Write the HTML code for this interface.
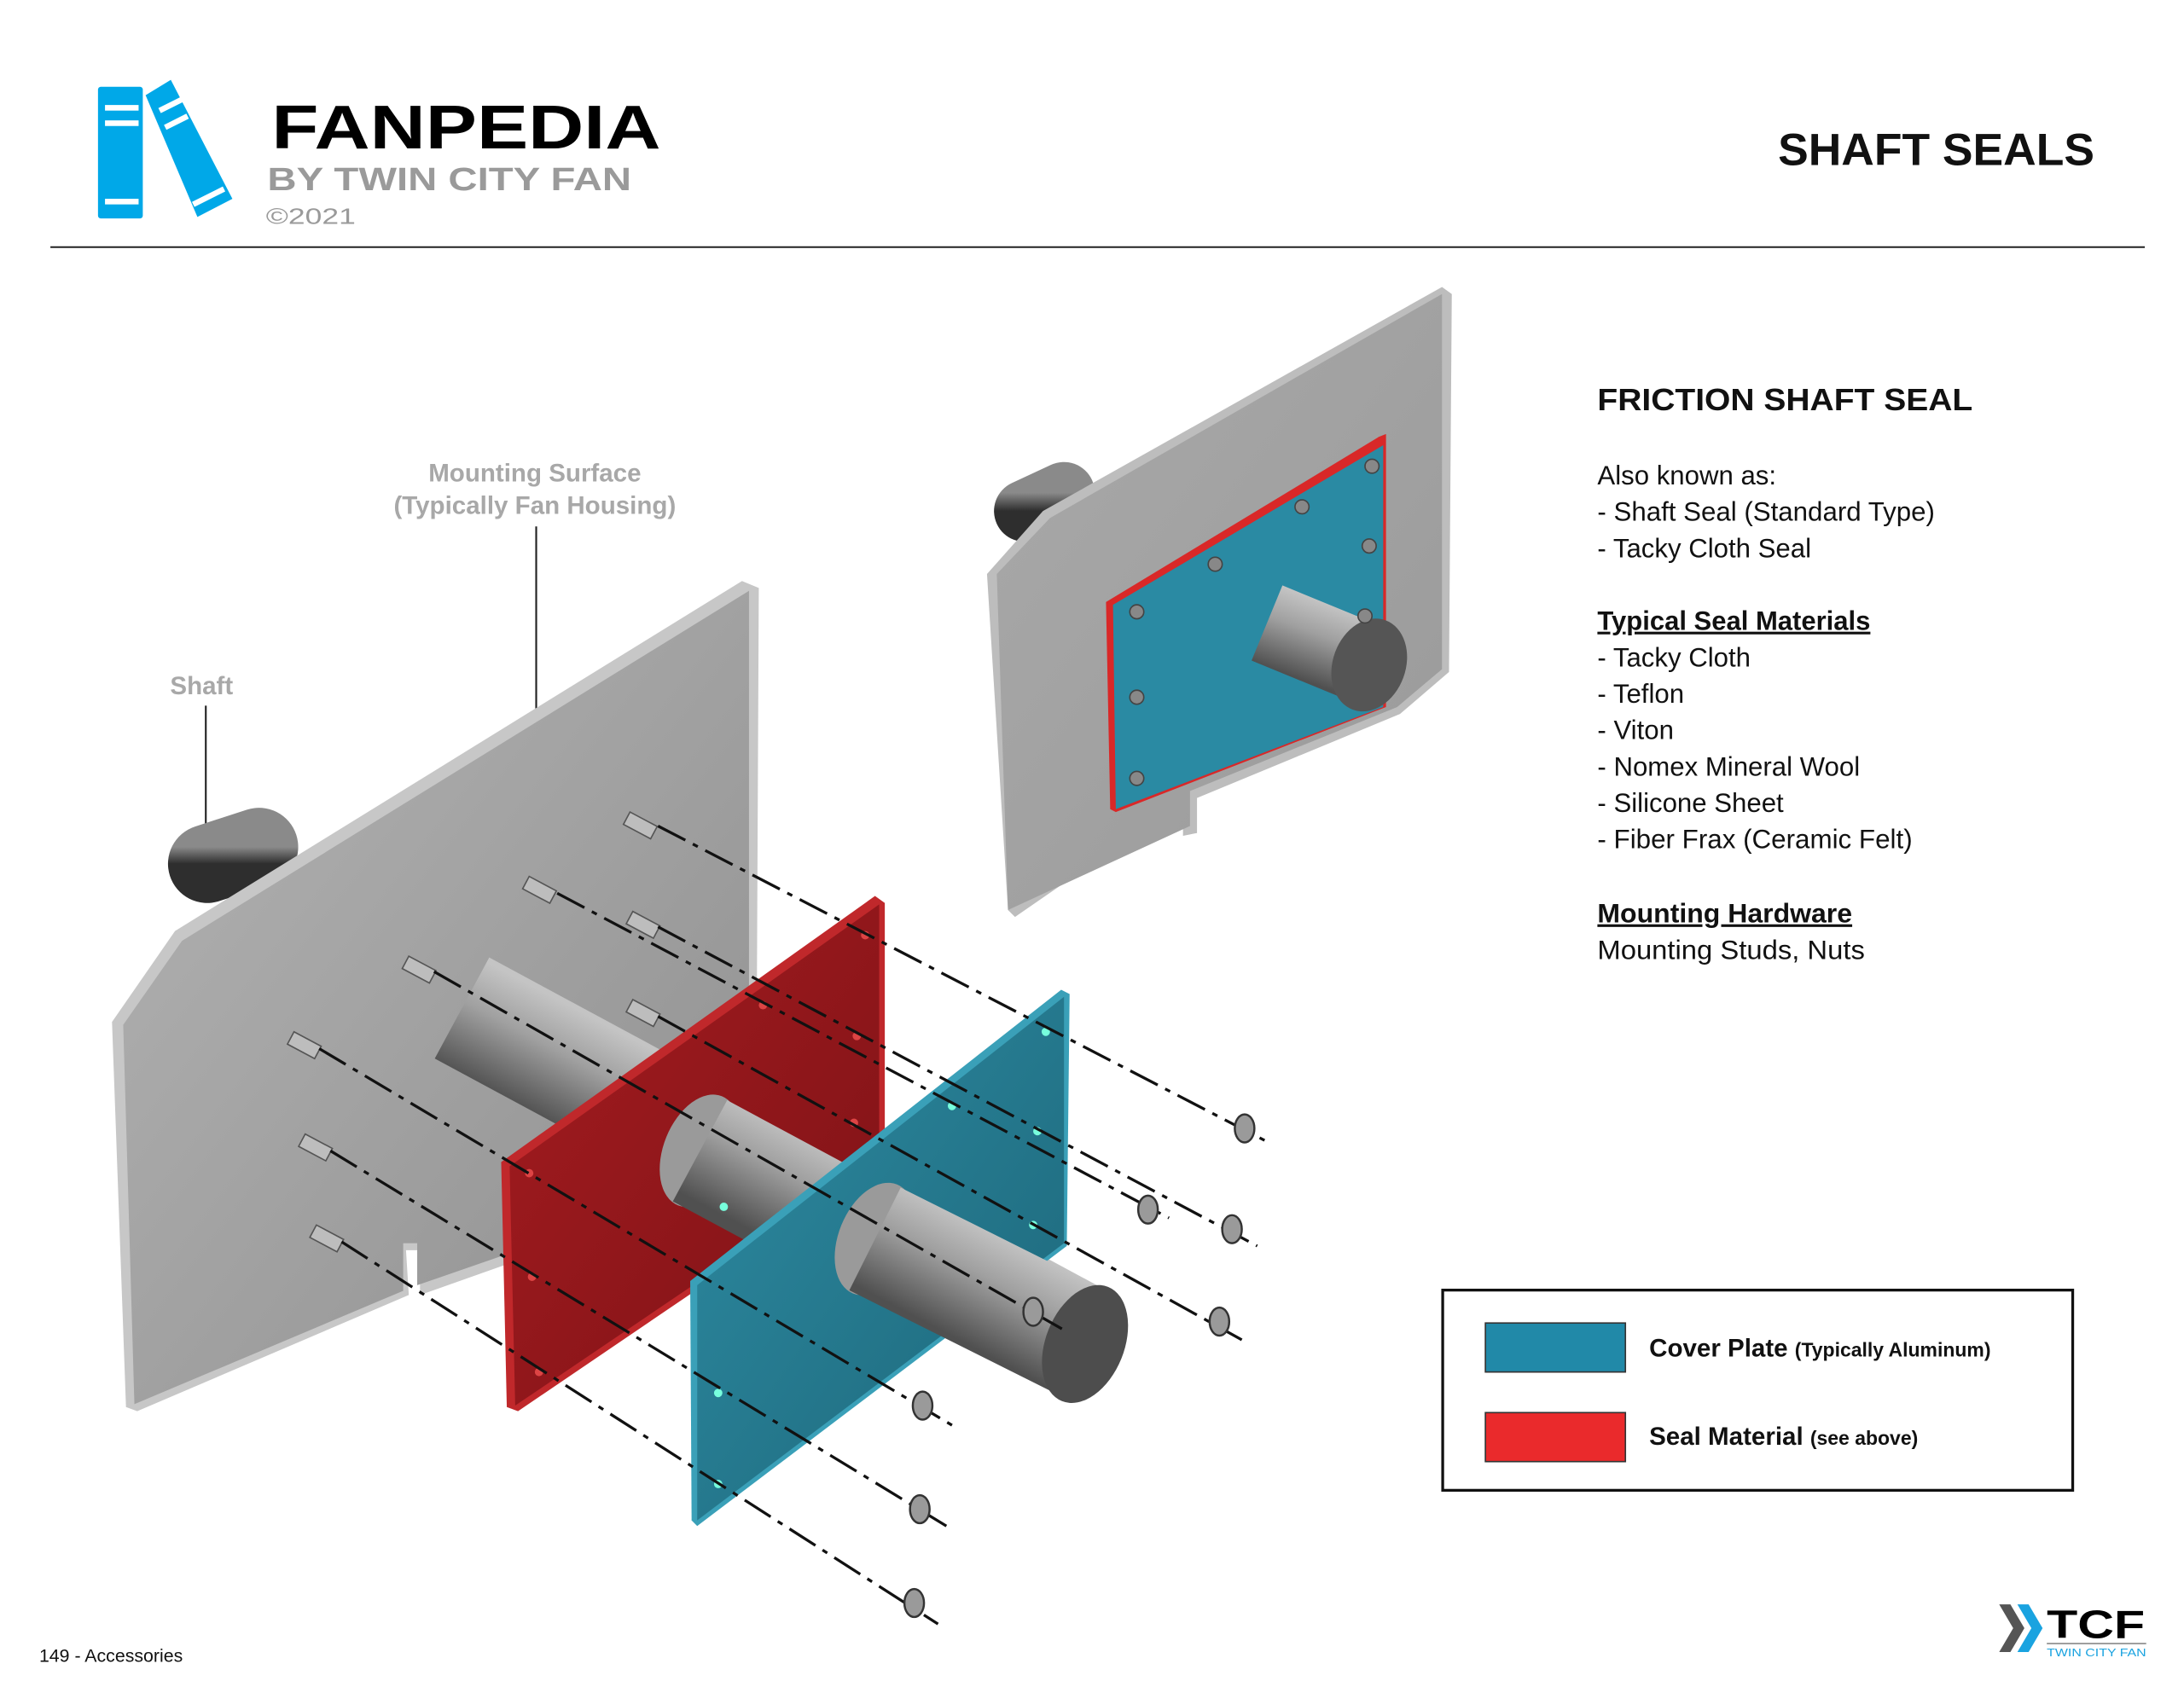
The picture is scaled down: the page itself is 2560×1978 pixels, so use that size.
<!DOCTYPE html>
<html><head><meta charset="utf-8"><style>
html,body{margin:0;padding:0;background:#fff}
svg{display:block}
text{font-family:"Liberation Sans",sans-serif}
</style></head><body>
<svg width="2560" height="1978" viewBox="0 0 1560 1205" preserveAspectRatio="none" xmlns="http://www.w3.org/2000/svg">
<defs>
<linearGradient id="gp" x1="0" y1="0" x2="1" y2="1"><stop offset="0" stop-color="#b4b4b4"/><stop offset="1" stop-color="#8f8f8f"/></linearGradient>
<linearGradient id="gp2" x1="0" y1="0" x2="1" y2="1"><stop offset="0" stop-color="#a9a9a9"/><stop offset="1" stop-color="#9a9a9a"/></linearGradient>
<linearGradient id="gr" x1="0" y1="0" x2="1" y2="1"><stop offset="0" stop-color="#a51c20"/><stop offset="1" stop-color="#7d1216"/></linearGradient>
<linearGradient id="gt" x1="0" y1="0" x2="1" y2="1"><stop offset="0" stop-color="#2e8ca3"/><stop offset="1" stop-color="#1c6578"/></linearGradient>
<linearGradient id="gs" gradientUnits="userSpaceOnUse" x1="569" y1="804" x2="531" y2="876"><stop offset="0" stop-color="#c4c4c4"/><stop offset="0.4" stop-color="#a0a0a0"/><stop offset="1" stop-color="#505050"/></linearGradient>
<linearGradient id="gs2" gradientUnits="userSpaceOnUse" x1="954" y1="433" x2="934" y2="487"><stop offset="0" stop-color="#c4c4c4"/><stop offset="0.4" stop-color="#a0a0a0"/><stop offset="1" stop-color="#505050"/></linearGradient>
<linearGradient id="gd" x1="0" y1="0" x2="0" y2="1"><stop offset="0" stop-color="#8a8a8a"/><stop offset="1" stop-color="#2e2e2e"/></linearGradient>
</defs>

<g>
<rect x="70" y="62" width="32" height="94" rx="2" fill="#00a8e8"/>
<rect x="75" y="75" width="24" height="4" fill="#fff"/><rect x="75" y="86" width="24" height="4" fill="#fff"/><rect x="75" y="142" width="24" height="4" fill="#fff"/>
<polygon points="104,68 122,57 166,142 141,155" fill="#00a8e8"/>
<line x1="114" y1="79" x2="130" y2="71" stroke="#fff" stroke-width="4"/><line x1="118" y1="91" x2="134" y2="83" stroke="#fff" stroke-width="4"/><line x1="138" y1="146" x2="160" y2="135" stroke="#fff" stroke-width="4"/>
</g>
<text x="194" y="106" font-size="44" font-weight="bold" textLength="278" lengthAdjust="spacingAndGlyphs" fill="#000">FANPEDIA</text>
<text x="191" y="136" font-size="23" font-weight="bold" textLength="260" lengthAdjust="spacingAndGlyphs" fill="#9a9a9a">BY TWIN CITY FAN</text>
<text x="190" y="160" font-size="16" textLength="64" lengthAdjust="spacingAndGlyphs" fill="#9a9a9a">©2021</text>
<text x="1270" y="118" font-size="32" font-weight="bold" textLength="226" lengthAdjust="spacingAndGlyphs" fill="#111">SHAFT SEALS</text>
<line x1="36" y1="176.5" x2="1532" y2="176.5" stroke="#222" stroke-width="1.2"/>

<g font-size="19" fill="#111">
<text x="1141" y="293" font-size="22" font-weight="bold" textLength="268" lengthAdjust="spacingAndGlyphs">FRICTION SHAFT SEAL</text>
<text x="1141" y="346">Also known as:</text>
<text x="1141" y="372" textLength="241" lengthAdjust="spacingAndGlyphs">- Shaft Seal (Standard Type)</text>
<text x="1141" y="398">- Tacky Cloth Seal</text>
<text x="1141" y="450" font-weight="bold" text-decoration="underline" textLength="195" lengthAdjust="spacingAndGlyphs">Typical Seal Materials</text>
<text x="1141" y="476">- Tacky Cloth</text>
<text x="1141" y="502">- Teflon</text>
<text x="1141" y="528">- Viton</text>
<text x="1141" y="554">- Nomex Mineral Wool</text>
<text x="1141" y="580">- Silicone Sheet</text>
<text x="1141" y="606" textLength="225" lengthAdjust="spacingAndGlyphs">- Fiber Frax (Ceramic Felt)</text>
<text x="1141" y="659" font-weight="bold" text-decoration="underline" textLength="182" lengthAdjust="spacingAndGlyphs">Mounting Hardware</text>
<text x="1141" y="685" textLength="191" lengthAdjust="spacingAndGlyphs">Mounting Studs, Nuts</text>
</g>

<rect x="1030.5" y="921.5" width="450" height="143" fill="#fff" stroke="#111" stroke-width="2"/>
<rect x="1061" y="945" width="100" height="35" fill="#2189a8" stroke="#333" stroke-width="1"/>
<rect x="1061" y="1009" width="100" height="35" fill="#ea2a2c" stroke="#333" stroke-width="1"/>
<text x="1178" y="969" font-size="18" font-weight="bold" fill="#111">Cover Plate <tspan font-size="14">(Typically Aluminum)</tspan></text>
<text x="1178" y="1032" font-size="18" font-weight="bold" fill="#111">Seal Material <tspan font-size="14">(see above)</tspan></text>

<text x="28" y="1187" font-size="13" fill="#111">149 - Accessories</text>
<polygon points="1428,1146 1436,1146 1446,1163 1436,1180 1428,1180 1438,1163" fill="#555"/>
<polygon points="1441,1146 1449,1146 1459,1163 1449,1180 1441,1180 1451,1163" fill="#1aa3e0"/>
<text x="1462" y="1170" font-size="28" font-weight="bold" textLength="70" lengthAdjust="spacingAndGlyphs" fill="#000">TCF</text>
<line x1="1462" y1="1174" x2="1533" y2="1174" stroke="#888" stroke-width="1"/>
<text x="1462" y="1183" font-size="8" textLength="71" lengthAdjust="spacingAndGlyphs" fill="#1aa3e0">TWIN CITY FAN</text>

<text x="382" y="344" font-size="18" font-weight="bold" fill="#a8a8a8" text-anchor="middle">Mounting Surface</text>
<text x="382" y="367" font-size="18" font-weight="bold" fill="#a8a8a8" text-anchor="middle">(Typically Fan Housing)</text>
<line x1="383" y1="376" x2="383" y2="543" stroke="#222" stroke-width="1.3"/>
<text x="144" y="496" font-size="18" font-weight="bold" fill="#a8a8a8" text-anchor="middle">Shaft</text>
<line x1="147" y1="504" x2="147" y2="618" stroke="#222" stroke-width="1.3"/>

<line x1="732" y1="365" x2="760" y2="352" stroke="url(#gd)" stroke-width="44" stroke-linecap="round"/>
<polygon points="705,410 745,365 1030,205 1037,210 1035,480 1000,510 855,570 855,595 845,597 845,572 725,655 720,650" fill="#bdbdbd"/>
<polygon points="712,410 750,370 1030,210 1030,478 998,505 850,565 850,590 720,650" fill="url(#gp2)"/>
<polygon points="790,430 985,312 990,310 990,505 797,580 793,578" fill="#d92828"/>
<polygon points="795,432 988,318 988,505 797,578" fill="#2a8aa3"/>
<line x1="905" y1="445" x2="978" y2="475" stroke="url(#gs2)" stroke-width="58"/>
<ellipse cx="978" cy="475" rx="26" ry="34" transform="rotate(20 978 475)" fill="#555"/>
<g fill="#888" stroke="#444" stroke-width="1">
<circle cx="812" cy="437" r="5"/><circle cx="868" cy="403" r="5"/><circle cx="930" cy="362" r="5"/><circle cx="980" cy="333" r="5"/><circle cx="978" cy="390" r="5"/><circle cx="975" cy="440" r="5"/><circle cx="812" cy="498" r="5"/><circle cx="812" cy="556" r="5"/>
</g>

<line x1="148" y1="617" x2="185" y2="605" stroke="url(#gd)" stroke-width="56" stroke-linecap="round"/>
<polygon points="80,730 125,665 530,415 542,420 540,840 300,925 300,893 290,893 292,925 98,1008 90,1005" fill="#c7c7c7"/>
<polygon points="88,732 130,672 535,422 535,836 298,918 298,888 288,888 288,922 96,1003" fill="url(#gp)"/>

<line x1="330" y1="720" x2="775" y2="960" stroke="url(#gs)" stroke-width="82"/>

<g stroke="#555" stroke-width="1" fill="#bdbdbd">
<rect x="450" y="580" width="22" height="10" transform="rotate(28 450 580)"/>
<rect x="378" y="626" width="22" height="10" transform="rotate(28 378 626)"/>
<rect x="452" y="651" width="22" height="10" transform="rotate(28 452 651)"/>
<rect x="452" y="714" width="22" height="10" transform="rotate(28 452 714)"/>
<rect x="292" y="683" width="22" height="10" transform="rotate(28 292 683)"/>
<rect x="210" y="737" width="22" height="10" transform="rotate(28 210 737)"/>
<rect x="218" y="810" width="22" height="10" transform="rotate(28 218 810)"/>
<rect x="226" y="875" width="22" height="10" transform="rotate(28 226 875)"/>
</g>

<polygon points="358,830 625,640 632,645 632,830 370,1008 362,1005" fill="#c0282b"/>
<polygon points="364,833 628,646 628,828 368,1004" fill="url(#gr)"/>
<ellipse cx="500" cy="822" rx="26" ry="42" transform="rotate(22 500 822)" fill="#9a9a9a"/>
<line x1="500" y1="822" x2="660" y2="908" stroke="url(#gs)" stroke-width="82"/>
<polygon points="493,915 758,707 764,710 762,890 498,1090 494,1086" fill="#3aa0b8"/>
<polygon points="498,918 760,712 760,888 498,1086" fill="url(#gt)"/>
<ellipse cx="625" cy="885" rx="26" ry="42" transform="rotate(22 625 885)" fill="#9a9a9a"/>
<line x1="625" y1="885" x2="775" y2="960" stroke="url(#gs)" stroke-width="82"/>
<ellipse cx="775" cy="960" rx="28" ry="44" transform="rotate(22 775 960)" fill="#4d4d4d"/>

<g fill="#d44"><circle cx="618" cy="668" r="3"/><circle cx="545" cy="718" r="3"/><circle cx="612" cy="740" r="3"/><circle cx="610" cy="802" r="3"/><circle cx="378" cy="838" r="3"/><circle cx="380" cy="912" r="3"/><circle cx="385" cy="980" r="3"/></g>
<g fill="#7fd"><circle cx="747" cy="737" r="3"/><circle cx="680" cy="790" r="3"/><circle cx="741" cy="808" r="3"/><circle cx="738" cy="875" r="3"/><circle cx="517" cy="862" r="3"/><circle cx="513" cy="995" r="3"/><circle cx="513" cy="1060" r="3"/></g>

<g stroke="#111" stroke-width="2" stroke-dasharray="22,6,4,6" fill="none">
<line x1="470" y1="590" x2="908" y2="817"/>
<line x1="398" y1="638" x2="835" y2="870"/>
<line x1="470" y1="662" x2="898" y2="890"/>
<line x1="470" y1="726" x2="887" y2="957"/>
<line x1="310" y1="694" x2="760" y2="950"/>
<line x1="228" y1="749" x2="680" y2="1018"/>
<line x1="236" y1="822" x2="676" y2="1090"/>
<line x1="244" y1="887" x2="670" y2="1160"/>
</g>
<g fill="#9a9a9a" stroke="#333" stroke-width="1.5">
<ellipse cx="889" cy="806" rx="7" ry="10"/><ellipse cx="820" cy="864" rx="7" ry="10"/><ellipse cx="880" cy="878" rx="7" ry="10"/><ellipse cx="871" cy="944" rx="7" ry="10"/><ellipse cx="738" cy="937" rx="7" ry="10"/><ellipse cx="659" cy="1004" rx="7" ry="10"/><ellipse cx="657" cy="1078" rx="7" ry="10"/><ellipse cx="653" cy="1145" rx="7" ry="10"/>
</g>
</svg>
</body></html>
